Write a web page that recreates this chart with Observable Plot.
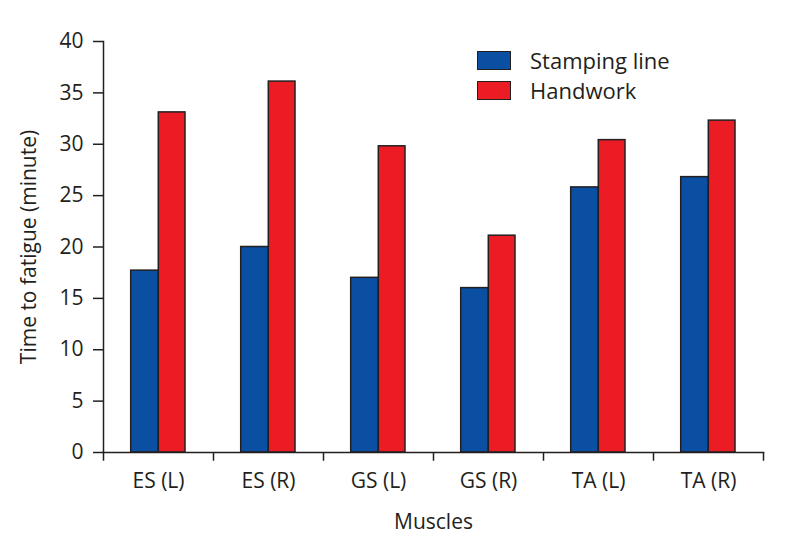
<!DOCTYPE html>
<html>
<head>
<meta charset="utf-8">
<script src="https://cdn.jsdelivr.net/npm/d3@7"></script>
<script src="https://cdn.jsdelivr.net/npm/@observablehq/plot@0.6"></script>
<style>
  html, body { margin: 0; padding: 0; background: #fff; }
  #wrap { position: relative; width: 788px; height: 546px; font-family: "Open Sans", Lato, sans-serif; color: #231f20; }
  #legend { position: absolute; left: 477px; top: 45px; font-size: 22px; line-height: 30px; }
  .item { display: flex; align-items: center; height: 30px; }
  .sw { width: 32px; height: 17px; border: 1.5px solid #231f20; margin-right: 19px; box-sizing: content-box; }
</style>
</head>
<body>
<div id="wrap"></div>
<script>
const muscles = ["ES (L)", "ES (R)", "GS (L)", "GS (R)", "TA (L)", "TA (R)"];
const stampingLine = [17.7, 20.0, 17.0, 16.0, 25.8, 26.8];
const handwork = [33.1, 36.1, 29.8, 21.1, 30.4, 32.3];
const yTicks = [0, 5, 10, 15, 20, 25, 30, 35, 40];
const seriesNames = ["Stamping line", "Handwork"];
const colors = ["#0a4fa2", "#ec1c24"];

const rows = muscles.map((m, i) => ({muscle: m, stamping: stampingLine[i], handwork: handwork[i]}));
const ink = "#231f20";
const bw = (788 - 103 - 25) / muscles.length;

const chart = Plot.plot({
  width: 788,
  height: 546,
  marginLeft: 103,
  marginRight: 25,
  marginTop: 41,
  marginBottom: 94,
  style: {fontFamily: "'Open Sans', Lato, sans-serif", fontSize: "21px", color: ink, background: "white", overflow: "visible"},
  x: {domain: muscles, padding: 0},
  y: {domain: [0, 40]},
  marks: [
    Plot.barY(rows, {x: "muscle", y: "stamping", fill: colors[0], stroke: ink, strokeWidth: 1.5, insetLeft: 27.7, insetRight: 54.7}),
    Plot.barY(rows, {x: "muscle", y: "handwork", fill: colors[1], stroke: ink, strokeWidth: 1.5, insetLeft: 55.3, insetRight: 28}),
    Plot.frame({anchor: "left", stroke: ink, strokeWidth: 1.5}),
    Plot.frame({anchor: "bottom", stroke: ink, strokeWidth: 1.5}),
    Plot.ruleX(muscles, {x: d => d, dx: -bw / 2, y1: 0, y2: -0.85, stroke: ink, strokeWidth: 1.5}),
    Plot.ruleX([muscles[muscles.length - 1]], {x: d => d, dx: bw / 2, y1: 0, y2: -0.85, stroke: ink, strokeWidth: 1.5}),
    Plot.axisX({tickSize: 0, tickPadding: 21, label: "Muscles", labelAnchor: "center", labelArrow: "none", labelOffset: 76, fontSize: 21}),
    Plot.axisY({ticks: yTicks, tickSize: 10, tickPadding: 10, strokeWidth: 1.5, label: "Time to fatigue (minute)", labelAnchor: "center", labelArrow: "none", labelOffset: 82, fontSize: 21})
  ]
});

const wrap = document.getElementById("wrap");
wrap.appendChild(chart);
const legend = document.createElement("div");
legend.id = "legend";
seriesNames.forEach((name, i) => {
  const item = document.createElement("div");
  item.className = "item";
  const sw = document.createElement("span");
  sw.className = "sw";
  sw.style.background = colors[i];
  const label = document.createElement("span");
  label.textContent = name;
  item.appendChild(sw);
  item.appendChild(label);
  legend.appendChild(item);
});
wrap.appendChild(legend);
</script>
</body>
</html>
